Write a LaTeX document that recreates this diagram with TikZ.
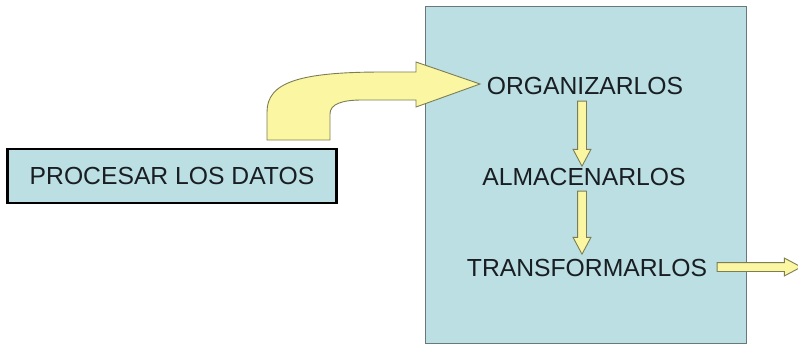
\documentclass[tikz,border=0pt]{standalone}
\usepackage{fontspec}
\setmainfont{Liberation Sans}
\usetikzlibrary{shapes.arrows}
\definecolor{boxcyan}{RGB}{187,223,226}
\definecolor{arrowyellow}{RGB}{250,246,162}
\definecolor{arrowline}{RGB}{125,125,85}
\definecolor{panelline}{RGB}{105,120,122}
\definecolor{textdark}{RGB}{25,30,35}

\begin{document}
\begin{tikzpicture}
	[x=1pt,y=-1pt,%%%%%%%%%%%%%%%%%%%%%%%%%%%%%%
	label/.style={text=textdark, inner sep=0pt, font=\fontsize{24.7}{28}\selectfont},
	panel/.style={rectangle, draw=panelline, line width=1.5pt, fill=boxcyan, minimum width=321pt, minimum height=337pt},
	procbox/.style={rectangle, draw=black, line width=2.6pt, fill=boxcyan, minimum width=329pt, minimum height=54pt, label},
	blockarrow/.style={single arrow, draw=arrowline, line width=0.9pt, fill=arrowyellow, inner xsep=0pt, inner ysep=4pt, single arrow head extend=4.5pt, single arrow tip angle=56, minimum width=17pt},
	]%%%%%%%%%%%%%%%%%%%%%%%%%%%%%%
	\useasboundingbox (0,0) rectangle (798,349);
	
	\node[panel] (panel) at (586,175){};
	\node[procbox] (procesar) at (172,176){PROCESAR LOS DATOS};
	
	\draw[draw=arrowline, line width=0.9pt, fill=arrowyellow, line join=miter]
		(267,140) -- (267,112) .. controls (267,82) and (300,72) .. (383,72)
		-- (416,72) -- (416,62) -- (480,84) -- (416,107) -- (416,100) -- (362,100)
		.. controls (342,100) and (330,104) .. (330,114) -- (330,140) -- cycle;
	
	\node[label] (organizar) at (585,85.5){ORGANIZARLOS};
	\node[label] (almacenar) at (584,176.5){ALMACENARLOS};
	\node[label] (transformar) at (587,267.5){TRANSFORMARLOS};
	
	\node[blockarrow, rotate=-90, minimum height=65pt] (down1) at (582,129.5){};
	\node[blockarrow, rotate=-90, minimum height=63pt] (down2) at (582,218.5){};
	\node[blockarrow, minimum height=84pt] (out) at (755,267){};
	
\end{tikzpicture}
\end{document}
